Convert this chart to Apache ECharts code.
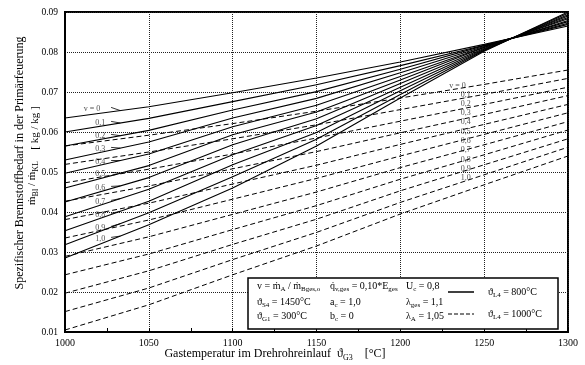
<!DOCTYPE html>
<html lang="de">
<head>
<meta charset="UTF-8">
<title>Spezifischer Brennstoffbedarf</title>
<script src="https://cdn.jsdelivr.net/npm/echarts@6/dist/echarts.min.js"></script>
</head>
<body style="padding: 0; margin: 0; background: #fff">
<div id="main" style="width: 585px; height: 365px;"></div>
<script>
// Gastemperatur im Drehrohreinlauf [°C]
var xs = [1000, 1050, 1100, 1150, 1200, 1250, 1300];
var vNames = ['v = 0', '0,1', '0,2', '0,3', '0,4', '0,5', '0,6', '0,7', '0,8', '0,9', '1,0'];

// ϑL4 = 800°C (durchgezogen), v = 0 ... 1,0
var solid = [
    [0.0635, 0.0663, 0.0698, 0.0735, 0.0775, 0.0819, 0.0865],
    [0.0600, 0.0634, 0.0676, 0.0718, 0.0766, 0.0817, 0.0869],
    [0.0565, 0.0604, 0.0655, 0.0701, 0.0757, 0.0816, 0.0872],
    [0.0530, 0.0575, 0.0635, 0.0684, 0.0748, 0.0814, 0.0876],
    [0.0497, 0.0545, 0.0613, 0.0667, 0.0739, 0.0812, 0.0879],
    [0.0460, 0.0516, 0.0593, 0.0650, 0.0730, 0.0811, 0.0883],
    [0.0425, 0.0486, 0.0568, 0.0633, 0.0721, 0.0809, 0.0886],
    [0.0388, 0.0457, 0.0543, 0.0616, 0.0712, 0.0807, 0.0890],
    [0.0353, 0.0427, 0.0518, 0.0599, 0.0703, 0.0805, 0.0893],
    [0.0318, 0.0398, 0.0488, 0.0582, 0.0694, 0.0804, 0.0897],
    [0.0285, 0.0368, 0.0460, 0.0565, 0.0685, 0.0802, 0.0900]
];

// ϑL4 = 1000°C (gestrichelt), v = 0 ... 1,0
var dashed = [
    [0.0565, 0.0592, 0.0621, 0.0652, 0.0685, 0.0719, 0.0755],
    [0.0519, 0.0550, 0.0583, 0.0618, 0.0656, 0.0694, 0.0734],
    [0.0473, 0.0507, 0.0545, 0.0585, 0.0627, 0.0669, 0.0712],
    [0.0427, 0.0465, 0.0508, 0.0551, 0.0598, 0.0644, 0.0691],
    [0.0381, 0.0422, 0.0470, 0.0517, 0.0569, 0.0619, 0.0669],
    [0.0335, 0.0380, 0.0432, 0.0484, 0.0540, 0.0594, 0.0648],
    [0.0289, 0.0338, 0.0394, 0.0450, 0.0511, 0.0568, 0.0626],
    [0.0243, 0.0295, 0.0356, 0.0416, 0.0482, 0.0543, 0.0605],
    [0.0197, 0.0253, 0.0319, 0.0382, 0.0453, 0.0518, 0.0583],
    [0.0151, 0.0210, 0.0281, 0.0349, 0.0424, 0.0493, 0.0562],
    [0.0105, 0.0168, 0.0243, 0.0315, 0.0395, 0.0468, 0.0540]
];

// Beschriftungen an den Kurven
var solidLabelY = [0.06575, 0.06225, 0.0590, 0.05575, 0.0525, 0.0495, 0.0460, 0.0425, 0.03925, 0.0360, 0.03325];
var dashedLabelY = [0.0715, 0.06925, 0.0670, 0.06475, 0.0625, 0.0600, 0.05775, 0.0555, 0.0530, 0.05075, 0.0485];

var FONT = 'Liberation Serif';

function interp(arr, x) {
    for (var j = 0; j < xs.length - 1; j++) {
        if (x <= xs[j + 1]) {
            var t = (x - xs[j]) / (xs[j + 1] - xs[j]);
            return arr[j] + t * (arr[j + 1] - arr[j]);
        }
    }
    return arr[arr.length - 1];
}

var series = [];
solid.forEach(function (arr) {
    series.push({
        type: 'line', symbol: 'none', silent: true,
        data: xs.map(function (x, j) { return [x, arr[j]]; }),
        lineStyle: {color: '#000', width: 1.1}
    });
});
dashed.forEach(function (arr) {
    series.push({
        type: 'line', symbol: 'none', silent: true,
        data: xs.map(function (x, j) { return [x, arr[j]]; }),
        lineStyle: {color: '#000', width: 1, type: [5, 3]}
    });
});

var labelData = [];
var hooks = [];
vNames.forEach(function (n, i) {
    labelData.push({name: n, value: [i === 0 ? 1021 : 1024, solidLabelY[i]]});
    labelData.push({name: n, value: [i === 0 ? 1239 : 1242, dashedLabelY[i]]});
    hooks.push({coords: [[1027.5, solidLabelY[i] + 0.0004], [1033, interp(solid[i], 1033)]]});
});
series.push({
    type: 'scatter', symbolSize: 0, silent: true, data: labelData,
    label: {
        show: true, position: [0, 0], align: 'right', verticalAlign: 'middle',
        formatter: function (p) { return p.name; },
        fontFamily: FONT, fontSize: 8, color: '#222'
    }
});
series.push({
    type: 'lines', coordinateSystem: 'cartesian2d', silent: true, data: hooks,
    lineStyle: {color: '#000', width: 0.8, opacity: 1}
});

var rich = {
    n: {fontFamily: FONT, fontSize: 10, lineHeight: 14, verticalAlign: 'middle', color: '#000'},
    s: {fontFamily: FONT, fontSize: 7, lineHeight: 14, verticalAlign: 'bottom', color: '#000'}
};
function txt(x, y, text) {
    return {type: 'text', x: x, y: y, z: 101,
        style: {text: text, rich: rich, textVerticalAlign: 'middle', fill: '#000'}};
}

var graphic = [
    {type: 'rect', z: 100, shape: {x: 248, y: 278, width: 310, height: 51},
        style: {fill: '#fff', stroke: '#000', lineWidth: 1.5}},
    txt(257, 286, '{n|v = ṁ}{s|A}{n| / ṁ}{s|Bges,o}'),
    txt(330, 286, '{n|q̇}{s|v,ges}{n| = 0,10*E}{s|ges}'),
    txt(406, 286, '{n|U}{s|c}{n| = 0,8}'),
    txt(257, 302, '{n|ϑ}{s|S4}{n| = 1450°C}'),
    txt(330, 302, '{n|a}{s|c}{n| = 1,0}'),
    txt(406, 302, '{n|λ}{s|ges}{n| = 1,1}'),
    txt(257, 316, '{n|ϑ}{s|G1}{n| = 300°C}'),
    txt(330, 316, '{n|b}{s|c}{n| = 0}'),
    txt(406, 316, '{n|λ}{s|A}{n| = 1,05}'),
    {type: 'line', z: 101, shape: {x1: 448, y1: 292, x2: 474, y2: 292},
        style: {stroke: '#000', lineWidth: 1.5}},
    txt(488, 292, '{n|ϑ}{s|L4}{n| = 800°C}'),
    {type: 'line', z: 101, shape: {x1: 448, y1: 314, x2: 474, y2: 314},
        style: {stroke: '#000', lineWidth: 1.2, lineDash: [4, 2]}},
    txt(488, 314, '{n|ϑ}{s|L4}{n| = 1000°C}'),
    // Achsentitel
    {type: 'text', x: 20, y: 163, rotation: Math.PI / 2, z: 101,
        style: {text: 'Spezifischer Brennstoffbedarf in der Primärfeuerung', font: '12px "Liberation Serif"',
            fill: '#000', textAlign: 'center', textVerticalAlign: 'middle'}},
    {type: 'text', x: 35, y: 128, rotation: Math.PI / 2, z: 101,
        style: {text: '[ kg / kg ]', font: '11px "Liberation Serif"',
            fill: '#000', textAlign: 'center', textVerticalAlign: 'middle'}},
    {type: 'text', x: 32, y: 183, rotation: Math.PI / 2, z: 101,
        style: {text: '{m|ṁ}{t|Bl}{m| / ṁ}{t|KL}', textAlign: 'center', textVerticalAlign: 'middle',
            rich: {
                m: {fontFamily: FONT, fontSize: 11, lineHeight: 15, verticalAlign: 'middle', color: '#000'},
                t: {fontFamily: FONT, fontSize: 8, lineHeight: 15, verticalAlign: 'bottom', color: '#000'}
            }}},
    {type: 'text', x: 275, y: 354, z: 101,
        style: {text: '{m|Gastemperatur im Drehrohreinlauf  ϑ}{t|G3}{m|    [°C]}', textAlign: 'center', textVerticalAlign: 'middle',
            rich: {
                m: {fontFamily: FONT, fontSize: 12, lineHeight: 16, verticalAlign: 'middle', color: '#000'},
                t: {fontFamily: FONT, fontSize: 8, lineHeight: 16, verticalAlign: 'bottom', color: '#000'}
            }}}
];

var dotted = {show: true, lineStyle: {color: '#222', width: 1, type: [1, 1]}};
var option = {
    animation: false,
    backgroundColor: '#fff',
    grid: {left: 65, right: 17, top: 12, bottom: 33, show: true, borderColor: '#000', borderWidth: 2},
    xAxis: {
        type: 'value', min: 1000, max: 1300, interval: 50,
        axisLine: {show: true, lineStyle: {color: '#000', width: 2}},
        axisTick: {show: true, inside: true, length: 4, lineStyle: {color: '#000'}},
        minorTick: {show: true, splitNumber: 2, length: 4, lineStyle: {color: '#000'}},
        axisLabel: {fontFamily: FONT, fontSize: 10, color: '#000', margin: 6,
            formatter: function (v) { return String(v); }},
        splitLine: dotted
    },
    yAxis: {
        type: 'value', min: 0.01, max: 0.09, interval: 0.01,
        axisLine: {show: true, lineStyle: {color: '#000', width: 2}},
        axisTick: {show: false},
        axisLabel: {fontFamily: FONT, fontSize: 9.5, color: '#000', margin: 7,
            formatter: function (v) { return v.toFixed(2); }},
        splitLine: dotted
    },
    series: series,
    graphic: graphic
};

var myChart = echarts.init(document.getElementById('main'));
myChart.setOption(option);
</script>
</body>
</html>
